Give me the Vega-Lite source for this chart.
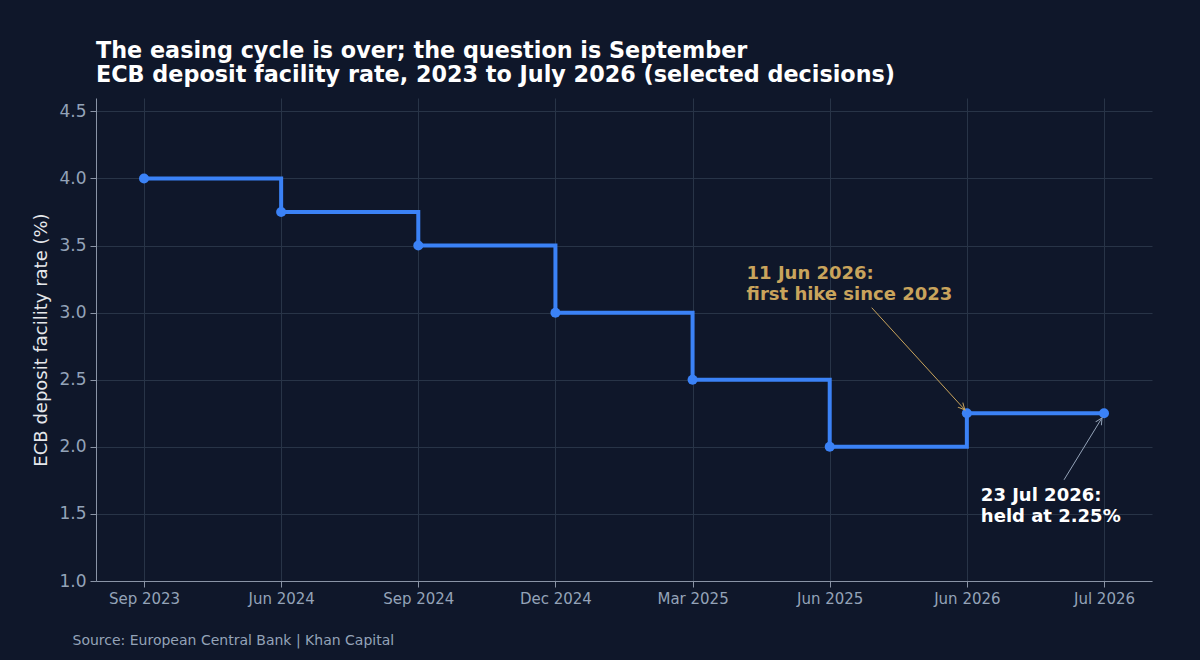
{
  "$schema": "https://vega.github.io/schema/vega-lite/v6.json",
  "width": 1056,
  "height": 483,
  "autosize": {"type": "none"},
  "padding": {"left": 96, "top": 98, "right": 48, "bottom": 79},
  "background": "#0f172a",
  "title": {
    "text": ["The easing cycle is over; the question is September", "ECB deposit facility rate, 2023 to July 2026 (selected decisions)"],
    "anchor": "start",
    "frame": "group",
    "fontSize": 22.3,
    "fontWeight": "bold",
    "color": "#ffffff",
    "lineHeight": 24,
    "offset": 12,
    "font": "DejaVu Sans"
  },
  "config": {
    "font": "DejaVu Sans",
    "view": {"stroke": null},
    "axis": {
      "gridColor": "#283447",
      "gridWidth": 1,
      "domainColor": "#8a94a6",
      "tickColor": "#8a94a6",
      "labelColor": "#94a3b8",
      "labelFont": "DejaVu Sans",
      "titleFont": "DejaVu Sans"
    }
  },
  "layer": [
    {
      "data": {"values": [
        {"decision": "Sep 2023", "rate": 4.0},
        {"decision": "Jun 2024", "rate": 3.75},
        {"decision": "Sep 2024", "rate": 3.5},
        {"decision": "Dec 2024", "rate": 3.0},
        {"decision": "Mar 2025", "rate": 2.5},
        {"decision": "Jun 2025", "rate": 2.0},
        {"decision": "Jun 2026", "rate": 2.25},
        {"decision": "Jul 2026", "rate": 2.25}
      ]},
      "layer": [
        {
          "mark": {"type": "line", "interpolate": "step-after", "color": "#3b82f6", "strokeWidth": 4},
          "encoding": {
            "x": {
              "field": "decision", "type": "ordinal", "sort": null,
              "scale": {"type": "point", "padding": 0.35, "domain": ["Sep 2023", "Jun 2024", "Sep 2024", "Dec 2024", "Mar 2025", "Jun 2025", "Jun 2026", "Jul 2026"]},
              "axis": {
                "labelAngle": 0, "labelFontSize": 15, "labelPadding": 4, "tickSize": 6, "grid": true,
                "title": "Source: European Central Bank | Khan Capital",
                "titleAnchor": "start", "titleAlign": "left", "titleX": -24, "titleY": 63,
                "titleBaseline": "alphabetic", "titleFontSize": 14, "titleFontWeight": "normal", "titleColor": "#94a3b8"
              }
            },
            "y": {
              "field": "rate", "type": "quantitative",
              "scale": {"domain": [1.0, 4.6], "nice": false, "zero": false},
              "axis": {
                "values": [1.0, 1.5, 2.0, 2.5, 3.0, 3.5, 4.0, 4.5], "format": ".1f",
                "labelFontSize": 17, "labelPadding": 4, "tickSize": 6, "grid": true,
                "title": "ECB deposit facility rate (%)", "titleFontSize": 18, "titleFontWeight": "normal",
                "titleColor": "#e5e7eb", "titlePadding": 8
              }
            }
          }
        },
        {
          "mark": {"type": "point", "filled": true, "color": "#3b82f6", "size": 100, "opacity": 1},
          "encoding": {
            "x": {"field": "decision", "type": "ordinal", "sort": null},
            "y": {"field": "rate", "type": "quantitative"}
          }
        }
      ]
    },
    {
      "data": {"values": [{"decision": "Mar 2025", "rate": 3.25, "note": "11 Jun 2026:\nfirst hike since 2023"}]},
      "mark": {"type": "text", "align": "left", "baseline": "alphabetic", "dx": 54, "fontSize": 18, "fontWeight": "bold", "color": "#c9a45c", "lineBreak": "\n", "lineHeight": 21},
      "encoding": {
        "x": {"field": "decision", "type": "ordinal", "sort": null},
        "y": {"field": "rate", "type": "quantitative"},
        "text": {"field": "note"}
      }
    },
    {
      "data": {"values": [{"decision": "Jun 2026", "rate": 1.6, "note": "23 Jul 2026:\nheld at 2.25%"}]},
      "mark": {"type": "text", "align": "left", "baseline": "alphabetic", "dx": 14, "fontSize": 18, "fontWeight": "bold", "color": "#ffffff", "lineBreak": "\n", "lineHeight": 21},
      "encoding": {
        "x": {"field": "decision", "type": "ordinal", "sort": null},
        "y": {"field": "rate", "type": "quantitative"},
        "text": {"field": "note"}
      }
    },
    {
      "data": {"values": [{"from": "Jun 2025", "to": "Jun 2026", "y1": 3.037, "y2": 2.276}]},
      "mark": {"type": "rule", "color": "#c9a45c", "strokeWidth": 1, "xOffset": 42, "x2Offset": -2},
      "encoding": {
        "x": {"field": "from", "type": "ordinal", "sort": null},
        "x2": {"field": "to"},
        "y": {"field": "y1", "type": "quantitative"},
        "y2": {"field": "y2"}
      }
    },
    {
      "data": {"values": [{"to": "Jun 2026", "y2": 2.276}]},
      "mark": {"type": "point", "shape": "M-0.5,1L0,0L0.5,1", "filled": false, "stroke": "#c9a45c", "strokeWidth": 1, "size": 180, "angle": 137.6, "xOffset": -2, "opacity": 1},
      "encoding": {
        "x": {"field": "to", "type": "ordinal", "sort": null},
        "y": {"field": "y2", "type": "quantitative"}
      }
    },
    {
      "data": {"values": [{"from": "Jul 2026", "to": "Jul 2026", "y1": 1.754, "y2": 2.216}]},
      "mark": {"type": "rule", "color": "#94a3b8", "strokeWidth": 1, "xOffset": -40, "x2Offset": -2},
      "encoding": {
        "x": {"field": "from", "type": "ordinal", "sort": null},
        "x2": {"field": "to"},
        "y": {"field": "y1", "type": "quantitative"},
        "y2": {"field": "y2"}
      }
    },
    {
      "data": {"values": [{"to": "Jul 2026", "y2": 2.216}]},
      "mark": {"type": "point", "shape": "M-0.5,1L0,0L0.5,1", "filled": false, "stroke": "#94a3b8", "strokeWidth": 1, "size": 180, "angle": 31.2, "xOffset": -2, "opacity": 1},
      "encoding": {
        "x": {"field": "to", "type": "ordinal", "sort": null},
        "y": {"field": "y2", "type": "quantitative"}
      }
    }
  ]
}
